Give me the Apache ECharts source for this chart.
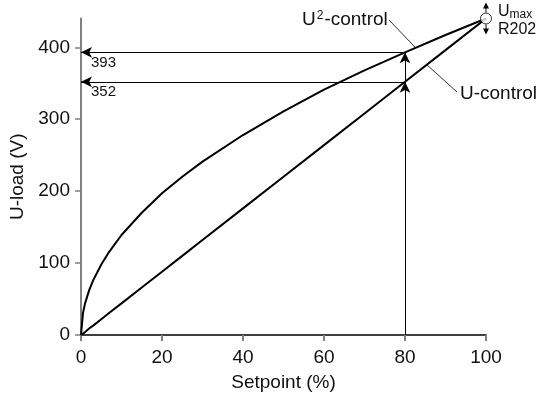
<!DOCTYPE html>
<html>
<head>
<meta charset="utf-8">
<script src="https://cdn.jsdelivr.net/npm/echarts@6/dist/echarts.min.js"></script>
<style>
  html, body { margin: 0; padding: 0; background: #fff; }
  #chart { width: 541px; height: 403px; }
</style>
</head>
<body>
<div id="chart"></div>
<script>
// setpoint (%) sample points
const setpoint = [0, 0.5, 1, 2, 3, 5, 7, 10, 15, 20, 25, 30, 40, 50, 60, 70, 80, 90, 100]
// U-load (V) for U-control and U²-control
const uControl = [0, 2, 4, 9, 13, 22, 31, 44, 66, 88, 110, 132, 176, 220, 264, 308, 352, 396, 440]
const u2Control = [0, 31, 44, 62, 76, 98, 116, 139, 170, 197, 220, 241, 278, 311, 341, 368, 393, 417, 440]
const readX = 80
const readouts = [393, 352]
const umaxPoint = [100, 440]
const yTicks = [0, 100, 200, 300, 400]

const FONT = '"Liberation Sans", Arial, sans-serif'
const chart = echarts.init(document.getElementById('chart'))

function pairs(xs, ys) {
  return xs.map((x, i) => [x, ys[i]])
}

const option = {
  animation: false,
  backgroundColor: '#fff',
  textStyle: { fontFamily: FONT },
  grid: { left: 81, right: 55, top: 18.5, bottom: 68 },
  xAxis: {
    type: 'value',
    min: 0,
    max: 100,
    interval: 20,
    name: 'Setpoint (%)',
    nameLocation: 'middle',
    nameGap: 38,
    nameTextStyle: { fontSize: 19, color: '#111', fontFamily: FONT },
    axisLine: { onZero: false, lineStyle: { color: '#000', width: 1.5 } },
    axisTick: { show: true, length: 6, lineStyle: { color: '#808080', width: 2 } },
    axisLabel: { fontSize: 19, color: '#111', margin: 13, fontFamily: FONT },
    splitLine: { show: false }
  },
  yAxis: {
    type: 'value',
    min: 0,
    max: 440,
    name: 'U-load (V)',
    nameLocation: 'middle',
    nameGap: 51,
    nameTextStyle: { fontSize: 19, color: '#111', fontFamily: FONT },
    axisLine: { show: true, lineStyle: { color: '#808080', width: 2 } },
    axisTick: { show: true, length: 6, customValues: yTicks, lineStyle: { color: '#808080', width: 1.5 } },
    axisLabel: { fontSize: 19, color: '#111', margin: 11, customValues: yTicks, fontFamily: FONT },
    splitLine: { show: false }
  },
  series: [
    {
      name: 'U-control',
      type: 'line',
      data: pairs(setpoint, uControl),
      showSymbol: false,
      lineStyle: { color: '#000', width: 2 },
      z: 3
    },
    {
      name: 'U²-control',
      type: 'line',
      data: pairs(setpoint, u2Control),
      showSymbol: false,
      lineStyle: { color: '#000', width: 2 },
      z: 3,
      markLine: {
        silent: true,
        symbol: ['none', 'arrow'],
        symbolSize: [8, 11],
        label: { show: false },
        lineStyle: { color: '#000', width: 1, type: 'solid' },
        data: [
          [{ coord: [readX, readouts[0]] }, { coord: [0, readouts[0]] }],
          [{ coord: [readX, readouts[1]] }, { coord: [0, readouts[1]] }],
          [{ coord: [readX, 0] }, { coord: [readX, readouts[1]] }],
          [{ coord: [readX, readouts[1]] }, { coord: [readX, readouts[0]] }]
        ]
      }
    },
    {
      name: 'Umax',
      type: 'scatter',
      data: [umaxPoint],
      symbol: 'circle',
      symbolSize: 11,
      itemStyle: { color: '#fff', borderColor: '#000', borderWidth: 1 },
      z: 5
    }
  ]
}
chart.setOption(option)

// annotations placed from data positions
const px = (p) => chart.convertToPixel({ gridIndex: 0 }, p)
const pU = px(umaxPoint)
const graphics = []

readouts.forEach((v) => {
  const p = px([0, v])
  graphics.push({
    type: 'text', x: p[0] + 10, y: p[1] + 3,
    style: { text: String(v), font: '15px ' + FONT, fill: '#111' }
  })
})

// U²-control label and leader
const pU2 = px([82.5, 400])
graphics.push({
  type: 'text', x: 302, y: 10,
  style: {
    text: '{a|U}{s|2}{a|-control}',
    rich: {
      a: { fontSize: 19, fontFamily: FONT, fill: '#111', lineHeight: 20 },
      s: { fontSize: 12, fontFamily: FONT, fill: '#111', lineHeight: 20, verticalAlign: 'top', padding: [0, 1, 6, 1] }
    }
  }
})
graphics.push({
  type: 'line', shape: { x1: 389, y1: 20, x2: pU2[0], y2: pU2[1] },
  style: { stroke: '#333', lineWidth: 1 }
})

// U-control label and leader
const pUc = px([85.4, 375.6])
graphics.push({
  type: 'line', shape: { x1: pUc[0], y1: pUc[1], x2: 457, y2: 92 },
  style: { stroke: '#333', lineWidth: 1 }
})
graphics.push({
  type: 'text', x: 460, y: 84,
  style: { text: 'U-control', font: '19px ' + FONT, fill: '#111' }
})

// Umax arrows
graphics.push({
  type: 'line', shape: { x1: pU[0], y1: pU[1] - 6, x2: pU[0], y2: pU[1] - 14 },
  style: { stroke: '#000', lineWidth: 1 }
})
graphics.push({
  type: 'polygon', shape: { points: [[pU[0], pU[1] - 16], [pU[0] - 3, pU[1] - 10], [pU[0] + 3, pU[1] - 10]] },
  style: { fill: '#000' }
})
graphics.push({
  type: 'line', shape: { x1: pU[0], y1: pU[1] + 6, x2: pU[0], y2: pU[1] + 14 },
  style: { stroke: '#000', lineWidth: 1 }
})
graphics.push({
  type: 'polygon', shape: { points: [[pU[0], pU[1] + 16], [pU[0] - 3, pU[1] + 10], [pU[0] + 3, pU[1] + 10]] },
  style: { fill: '#000' }
})
graphics.push({
  type: 'text', x: pU[0] + 12, y: pU[1] - 16,
  style: {
    text: '{a|U}{b|max}\n{a|R202}',
    rich: {
      a: { fontSize: 16, fontFamily: FONT, fill: '#111', lineHeight: 18 },
      b: { fontSize: 12, fontFamily: FONT, fill: '#111', lineHeight: 18, verticalAlign: 'bottom' }
    }
  }
})

chart.setOption({ graphic: graphics })
</script>
</body>
</html>
